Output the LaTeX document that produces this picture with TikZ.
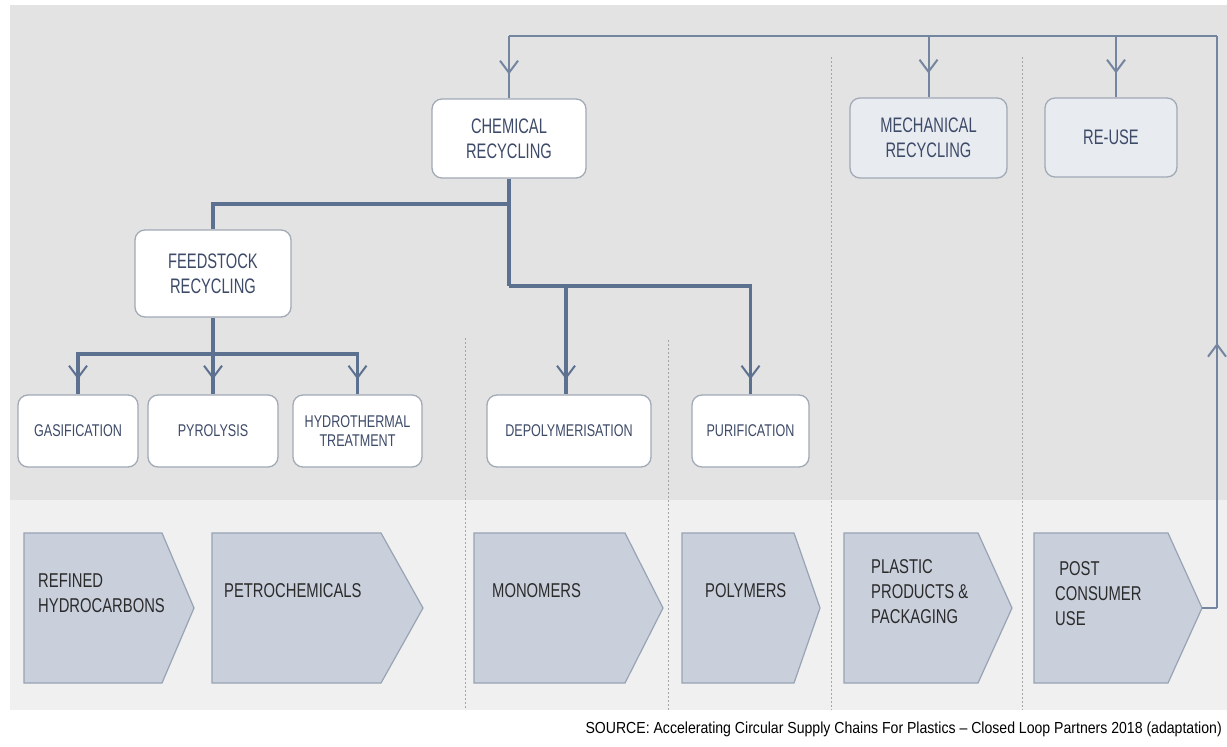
\documentclass[tikz,border=0pt]{standalone}
\usepackage{fontspec}
\newfontfamily\nar[FakeStretch=0.74]{Liberation Sans}
\newfontfamily\narb[FakeStretch=0.70]{Liberation Sans}
\newfontfamily\srcfont[FakeStretch=0.88]{Liberation Sans}
\usetikzlibrary{arrows.meta,decorations.markings}
\definecolor{panel}{HTML}{E3E3E3}
\definecolor{band}{HTML}{F0F0F0}
\definecolor{connc}{HTML}{5C7090}
\definecolor{loopc}{HTML}{7485A0}
\definecolor{boxline}{HTML}{A2AAB6}
\definecolor{boxtext}{HTML}{3D4A68}
\definecolor{boxfill2}{HTML}{E8EBF0}
\definecolor{chevfill}{HTML}{C9D0DC}
\definecolor{chevline}{HTML}{98A3B4}
\definecolor{chevtext}{HTML}{2B2B2B}
\definecolor{dotc}{HTML}{A5A5A5}
\tikzset{
  rbox/.style={draw=boxline, line width=1.3pt, rounded corners=10pt, fill=white,
    text=boxtext, align=center, inner sep=0pt},
  bigtxt/.style={font=\narb\fontsize{21}{25}\selectfont},
  smalltxt/.style={font=\nar\fontsize{17}{19}\selectfont},
  conn/.style={draw=connc, line width=3.2pt},
  loopline/.style={draw=loopc, line width=2pt},
  arrowat/.style={postaction={decorate}, decoration={markings,
    mark=at position #1 with {\arrow{Straight Barb[length=12pt,width=18pt,line width=2pt]}}}},
  chev/.style={fill=chevfill, draw=chevline, line width=1.2pt},
  chevtxt/.style={font=\nar\fontsize{20}{25}\selectfont, text=chevtext, align=left, anchor=west, inner sep=0pt},
  dotline/.style={draw=dotc, line width=0.8pt, dash pattern=on 2pt off 2pt}
}
\begin{document}
\begin{tikzpicture}[x=1pt,y=-1pt]
\useasboundingbox (0,0) rectangle (1227,747);
% backgrounds
\fill[panel] (10,5) rectangle (1227,500);
\fill[band] (10,500) rectangle (1227,710);
% dotted separators
\draw[dotline] (465,338) -- (465,710);
\draw[dotline] (668,340) -- (668,710);
\draw[dotline] (831,57) -- (831,710);
\draw[dotline] (1022,57) -- (1022,710);
% boxes
\node[rbox, bigtxt, minimum width=154pt, minimum height=79pt] (chem) at (509,138.5) {CHEMICAL\\RECYCLING};
\node[rbox, bigtxt, fill=boxfill2, minimum width=157pt, minimum height=80pt] (mech) at (928.5,138) {MECHANICAL\\RECYCLING};
\node[rbox, bigtxt, fill=boxfill2, minimum width=132pt, minimum height=79pt] (reuse) at (1111,137.5) {RE-USE};
\node[rbox, bigtxt, minimum width=156pt, minimum height=87pt] (feed) at (213,273.5) {FEEDSTOCK\\RECYCLING};
\node[rbox, smalltxt, minimum width=120pt, minimum height=72pt] (gas) at (78,431) {GASIFICATION};
\node[rbox, smalltxt, minimum width=130pt, minimum height=72pt] (pyro) at (213,431) {PYROLYSIS};
\node[rbox, smalltxt, minimum width=129pt, minimum height=72pt] (hydro) at (357.5,431) {HYDROTHERMAL\\TREATMENT};
\node[rbox, smalltxt, minimum width=164pt, minimum height=72pt] (depoly) at (569,431) {DEPOLYMERISATION};
\node[rbox, smalltxt, minimum width=117pt, minimum height=72pt] (purif) at (750.5,431) {PURIFICATION};
% chevrons
\draw[chev] (24,533) -- (162,533) -- (194,608) -- (162,683) -- (24,683) -- cycle;
\draw[chev] (212,533) -- (381,533) -- (423,608) -- (381,683) -- (212,683) -- cycle;
\draw[chev] (474,533) -- (625,533) -- (663,608) -- (625,683) -- (474,683) -- cycle;
\draw[chev] (682,533) -- (794,533) -- (820,608) -- (794,683) -- (682,683) -- cycle;
\draw[chev] (844,533) -- (978,533) -- (1012,608) -- (978,683) -- (844,683) -- cycle;
\draw[chev] (1034,533) -- (1168,533) -- (1202,608) -- (1168,683) -- (1034,683) -- cycle;
\node[chevtxt] (refined) at (38,593) {REFINED\\HYDROCARBONS};
\node[chevtxt] (petro) at (224,591) {PETROCHEMICALS};
\node[chevtxt] (mono) at (492,591) {MONOMERS};
\node[chevtxt] (poly) at (705,591) {POLYMERS};
\node[chevtxt] (plastic) at (871,592) {PLASTIC\\PRODUCTS \&\\PACKAGING};
\node[chevtxt] (post) at (1055,594) {\ POST\\CONSUMER\\USE};
% coordinates
\coordinate (postTip) at (1202,608);
\coordinate (loopR) at (1217,608);
\coordinate (loopTR) at (1217,36);
\coordinate (tChem) at (509,36);
\coordinate (tMech) at (928.5,36);
\coordinate (tReuse) at (1116,36);
\coordinate (jFeed) at (509,204);
\coordinate (jMid) at (509,286);
\coordinate (jDep) at (566,286);
\coordinate (jLow) at (213,354);
% loop connectors
\draw[loopline] (postTip) -- (loopR);
\draw[loopline, arrowat=265pt] (loopR) -- (loopTR);
\draw[loopline] (loopTR) -- (tChem);
\draw[loopline, arrowat=-24pt] (tChem) -- (chem.north);
\draw[loopline, arrowat=-24pt] (tMech) -- (mech.north);
\draw[loopline, arrowat=-24pt] (tReuse) -- (tReuse |- reuse.north);
% chemical branches
\draw[conn] (chem.south) -- (jFeed) -| (feed.north);
\draw[conn] (jFeed) -- (jMid);
\draw[conn, arrowat=-15pt] (jMid) -| (purif.north);
\draw[conn, arrowat=-15pt] (jDep) -- (jDep |- depoly.north);
% feedstock branches
\draw[conn, arrowat=-15pt] (feed.south) -- (pyro.north);
\draw[conn, arrowat=-15pt] (jLow) -| (gas.north);
\draw[conn, arrowat=-15pt] (jLow) -| (hydro.north);
% source
\node[anchor=east, inner sep=0pt, font=\srcfont\fontsize{16}{18}\selectfont, text=black] (src) at (1222,729)
  {SOURCE: Accelerating Circular Supply Chains For Plastics – Closed Loop Partners 2018 (adaptation)};
\end{tikzpicture}
\end{document}
